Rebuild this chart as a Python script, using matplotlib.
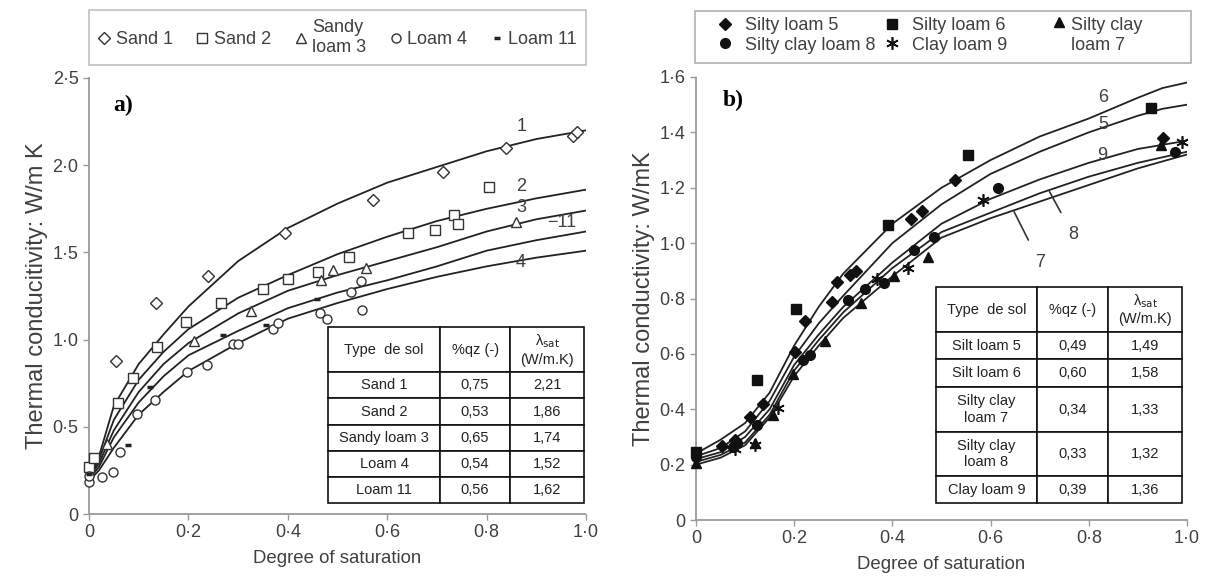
import matplotlib
matplotlib.use("Agg")
import matplotlib.pyplot as plt
from matplotlib.patches import Rectangle
from matplotlib.ticker import FuncFormatter

plt.rcParams["font.family"] = ["Liberation Sans", "DejaVu Sans"]
GREY = "#404040"

# ---------------- panel a data ----------------
xa = [0, 0.02, 0.05, 0.1, 0.15, 0.2, 0.3, 0.4, 0.5, 0.6, 0.7, 0.8, 0.9, 1.0]
curve_a = {
    "1": [0.20, 0.33, 0.62, 0.86, 1.03, 1.19, 1.45, 1.64, 1.78, 1.90, 1.99, 2.08, 2.15, 2.20],
    "2": [0.21, 0.31, 0.54, 0.77, 0.93, 1.06, 1.24, 1.37, 1.49, 1.59, 1.68, 1.75, 1.81, 1.86],
    "3": [0.21, 0.29, 0.48, 0.70, 0.86, 0.98, 1.15, 1.28, 1.37, 1.45, 1.53, 1.62, 1.69, 1.74],
    "11": [0.20, 0.27, 0.44, 0.64, 0.79, 0.91, 1.05, 1.18, 1.27, 1.34, 1.42, 1.51, 1.57, 1.62],
    "4": [0.19, 0.25, 0.38, 0.57, 0.70, 0.82, 0.98, 1.12, 1.21, 1.29, 1.36, 1.42, 1.47, 1.51],
}

sand1_x = [0.054, 0.135, 0.239, 0.394, 0.572, 0.712, 0.839, 0.973, 0.982]
sand1_y = [0.877, 1.21, 1.365, 1.61, 1.80, 1.963, 2.097, 2.165, 2.19]
sand2_x = [0.0, 0.01, 0.058, 0.088, 0.136, 0.195, 0.265, 0.35, 0.40, 0.461, 0.523, 0.642, 0.696, 0.734, 0.743, 0.805]
sand2_y = [0.27, 0.32, 0.636, 0.78, 0.958, 1.10, 1.21, 1.29, 1.35, 1.39, 1.475, 1.61, 1.63, 1.714, 1.663, 1.875]
sloam3_x = [0.036, 0.211, 0.326, 0.466, 0.491, 0.557, 0.859]
sloam3_y = [0.40, 0.994, 1.166, 1.342, 1.40, 1.41, 1.676]
loam4_x = [0.0, 0.0, 0.026, 0.049, 0.062, 0.096, 0.133, 0.197, 0.237, 0.29, 0.30, 0.37, 0.38,
           0.465, 0.478, 0.528, 0.547, 0.55]
loam4_y = [0.185, 0.22, 0.214, 0.243, 0.357, 0.572, 0.654, 0.816, 0.854, 0.975, 0.975, 1.06, 1.095,
           1.15, 1.118, 1.275, 1.338, 1.17]
loam11_x = [0.0, 0.078, 0.123, 0.27, 0.357, 0.458]
loam11_y = [0.23, 0.395, 0.73, 1.026, 1.085, 1.233]

table_a = [["Sand 1", "0,75", "2,21"],
           ["Sand 2", "0,53", "1,86"],
           ["Sandy loam 3", "0,65", "1,74"],
           ["Loam 4", "0,54", "1,52"],
           ["Loam 11", "0,56", "1,62"]]

# ---------------- panel b data ----------------
xb = [0, 0.05, 0.1, 0.15, 0.2, 0.25, 0.3, 0.4, 0.5, 0.6, 0.7, 0.8, 0.9, 0.95, 1.0]
curve_b = {
    "6": [0.24, 0.29, 0.35, 0.46, 0.63, 0.77, 0.89, 1.07, 1.20, 1.30, 1.385, 1.45, 1.525, 1.56, 1.58],
    "5": [0.23, 0.26, 0.32, 0.43, 0.59, 0.71, 0.81, 1.00, 1.14, 1.25, 1.33, 1.40, 1.46, 1.485, 1.50],
    "9": [0.22, 0.245, 0.30, 0.40, 0.56, 0.67, 0.77, 0.93, 1.07, 1.16, 1.23, 1.29, 1.34, 1.355, 1.37],
    "8": [0.21, 0.235, 0.28, 0.38, 0.54, 0.65, 0.75, 0.91, 1.04, 1.11, 1.18, 1.24, 1.29, 1.31, 1.33],
    "7": [0.20, 0.225, 0.27, 0.37, 0.52, 0.63, 0.73, 0.88, 1.02, 1.09, 1.15, 1.21, 1.27, 1.295, 1.32],
}

sl5_x = [0.052, 0.08, 0.11, 0.137, 0.202, 0.222, 0.278, 0.288, 0.314, 0.326, 0.438, 0.461, 0.527, 0.952]
sl5_y = [0.267, 0.289, 0.373, 0.419, 0.607, 0.72, 0.788, 0.86, 0.884, 0.90, 1.086, 1.116, 1.229, 1.38]
sl6_x = [0.0, 0.124, 0.204, 0.392, 0.555, 0.926]
sl6_y = [0.247, 0.506, 0.761, 1.065, 1.318, 1.487]
scl8_x = [0.0, 0.075, 0.083, 0.124, 0.218, 0.232, 0.31, 0.344, 0.383, 0.445, 0.484, 0.616, 0.975]
scl8_y = [0.229, 0.265, 0.278, 0.343, 0.578, 0.596, 0.795, 0.833, 0.855, 0.975, 1.021, 1.198, 1.33]
cl9_x = [0.08, 0.12, 0.167, 0.369, 0.431, 0.585, 0.989]
cl9_y = [0.255, 0.27, 0.403, 0.87, 0.911, 1.156, 1.366]
scl7_x = [0.0, 0.12, 0.157, 0.198, 0.263, 0.337, 0.403, 0.473, 0.948]
scl7_y = [0.205, 0.277, 0.379, 0.527, 0.648, 0.782, 0.881, 0.949, 1.354]

table_b = [["Silt loam 5", "0,49", "1,49"],
           ["Silt loam 6", "0,60", "1,58"],
           ["Silty clay\nloam 7", "0,34", "1,33"],
           ["Silty clay\nloam 8", "0,33", "1,32"],
           ["Clay loam 9", "0,39", "1,36"]]

header = ["Type  de sol", "%qz (-)", "λ$_{\\mathrm{sat}}$\n(W/m.K)"]


def dot_fmt(v, pos):
    if abs(v) < 1e-9:
        return "0"
    return ("%.1f" % v).replace(".", "·")


def style_axes(ax, ymax, ystep):
    for s in ["top", "right"]:
        ax.spines[s].set_visible(False)
    for s in ["left", "bottom"]:
        ax.spines[s].set_color("#9a9a9a")
        ax.spines[s].set_linewidth(1.3)
        ax.spines[s].set_linestyle((0, (2, 1)))
    ax.set_xlim(0, 1.0)
    ax.set_ylim(0, ymax)
    ax.set_xticks([0, 0.2, 0.4, 0.6, 0.8, 1.0])
    n = int(round(ymax / ystep))
    ax.set_yticks([i * ystep for i in range(n + 1)])
    ax.xaxis.set_major_formatter(FuncFormatter(dot_fmt))
    ax.yaxis.set_major_formatter(FuncFormatter(dot_fmt))
    ax.tick_params(labelsize=13, colors="#9a9a9a", labelcolor=GREY, length=4, width=1)
    ax.set_xlabel("Degree of saturation", fontsize=13.4, color=GREY, labelpad=6)


def make_table(ax, rows, bbox, colw, rowh):
    tb = ax.table(cellText=[header] + rows, cellLoc="center", bbox=bbox)
    tb.auto_set_font_size(False)
    for (r, c), cell in tb.get_celld().items():
        cell.set_width(colw[c])
        cell.set_height(rowh[r])
        cell.set_linewidth(1.2)
        cell.set_edgecolor("#111111")
        cell.get_text().set_fontsize(10.5)
        cell.get_text().set_color("#222222")
    return tb


fig = plt.figure(figsize=(12.06, 5.82), dpi=100)
axa = fig.add_axes([0.0738, 0.1168, 0.4122, 0.7492])
axb = fig.add_axes([0.5771, 0.1065, 0.4071, 0.7612])

# ---------------- panel a ----------------
for key, ys in curve_a.items():
    axa.plot(xa, ys, color="#222222", lw=1.3, zorder=2)

mk = dict(linestyle="none", mfc="white", mec="#333333", mew=1.0, clip_on=False, zorder=3)
h1, = axa.plot(sand1_x, sand1_y, marker="D", ms=6, label="Sand 1", **mk)
h2, = axa.plot(sand2_x, sand2_y, marker="s", ms=6.5, label="Sand 2", **mk)
h3, = axa.plot(sloam3_x, sloam3_y, marker="^", ms=7, label="Sandy\nloam 3", **mk)
h4, = axa.plot(loam4_x, loam4_y, marker="o", ms=6.5, label="Loam 4", **mk)
h5, = axa.plot(loam11_x, loam11_y, marker="_", ms=5, mew=2.5, color="#222222",
               linestyle="none", clip_on=False, zorder=3, label="Loam 11")

style_axes(axa, 2.5, 0.5)
axa.set_ylabel("Thermal conducitivity: W/m K", fontsize=17, color=GREY, labelpad=3)

lab_a = {"1": (0.87, 2.22), "2": (0.87, 1.88), "3": (0.87, 1.76), "−11": (0.95, 1.67), "4": (0.868, 1.44)}
for t, (x, y) in lab_a.items():
    axa.text(x, y, t, fontsize=13, color=GREY, ha="center", va="center", zorder=4)

axa.text(0.048, 0.938, "a)", transform=axa.transAxes, fontsize=17, fontweight="bold",
         family="Liberation Serif", va="center", ha="left")

leg = axa.legend(handles=[h1, h2, h3, h4, h5], loc="center", ncol=5,
                 bbox_to_anchor=(0, 1.034, 1.0, 0.117), mode="expand", borderaxespad=0,
                 fontsize=13, frameon=True, fancybox=False, edgecolor="#b0b0b0",
                 handlelength=0.7, handletextpad=0.3, columnspacing=0.9, borderpad=0.5,
                 labelspacing=0.1)
leg.get_frame().set_linewidth(1.2)
for t in leg.get_texts():
    t.set_color(GREY)

make_table(axa, table_a, [0.481, 0.025, 0.515, 0.404],
           [112, 70, 74], [45, 26, 26, 26, 26, 26])

# ---------------- panel b ----------------
for key, ys in curve_b.items():
    axb.plot(xb, ys, color="#222222", lw=1.3, zorder=2)

mkb = dict(linestyle="none", color="#111111", clip_on=False, zorder=3)
g5, = axb.plot(sl5_x, sl5_y, marker="D", ms=6, label="Silty loam 5", **mkb)
g6, = axb.plot(sl6_x, sl6_y, marker="s", ms=7.5, label="Silty loam 6", **mkb)
g8, = axb.plot(scl8_x, scl8_y, marker="o", ms=7, label="Silty clay loam 8", **mkb)
g9, = axb.plot(cl9_x, cl9_y, marker=(6, 2, 0), ms=9, mew=1.2, label="Clay loam 9", **mkb)
g7, = axb.plot(scl7_x, scl7_y, marker="^", ms=7.5, label="Silty clay\nloam 7", **mkb)

style_axes(axb, 1.6, 0.2)
axb.set_ylabel("Thermal conductivity: W/mK", fontsize=17, color=GREY, labelpad=3)

lab_b = {"6": (0.83, 1.525), "5": (0.83, 1.43), "9": (0.828, 1.315)}
for t, (x, y) in lab_b.items():
    axb.text(x, y, t, fontsize=13, color=GREY, ha="center", va="center", zorder=4)
axb.annotate("8", xy=(0.72, 1.186), xytext=(0.768, 1.03), fontsize=13, color=GREY,
             ha="center", va="center",
             arrowprops=dict(arrowstyle="-", color="#333333", lw=1.2, shrinkA=9, shrinkB=0))
axb.annotate("7", xy=(0.648, 1.113), xytext=(0.70, 0.93), fontsize=13, color=GREY,
             ha="center", va="center",
             arrowprops=dict(arrowstyle="-", color="#333333", lw=1.2, shrinkA=9, shrinkB=0))

axb.text(0.055, 0.948, "b)", transform=axb.transAxes, fontsize=17, fontweight="bold",
         family="Liberation Serif", va="center", ha="left")

# legend frame drawn separately; entries split in two legends to follow the original spacing
axb.add_patch(Rectangle((-0.002, 1.032), 1.01, 0.117, transform=axb.transAxes,
                        fill=False, edgecolor="#b0b0b0", lw=1.2, clip_on=False))
legb = axb.legend(handles=[g5, g8, g6, g9], loc="center left", ncol=2,
                  bbox_to_anchor=(0.022, 1.094), fontsize=13, frameon=False,
                  handlelength=1.0, handletextpad=0.6, columnspacing=0.45,
                  borderpad=0.0, labelspacing=0.15)
for t in legb.get_texts():
    t.set_color(GREY)
axb.add_artist(legb)
legc = axb.legend(handles=[g7], loc="center left", bbox_to_anchor=(0.703, 1.094),
                  fontsize=13, frameon=False, handlelength=1.0, handletextpad=0.15,
                  borderpad=0.0)
for t in legc.get_texts():
    t.set_color(GREY)
# the original sets the triangle level with the first text line
legc.legend_handles[0].set_transform(
    legc.legend_handles[0].get_transform()
    + matplotlib.transforms.ScaledTranslation(0, 10 / 72, fig.dpi_scale_trans))

make_table(axb, table_b, [0.489, 0.038, 0.501, 0.488],
           [101, 71, 74], [45, 27, 28, 45, 44, 27])

fig.savefig("out.png", dpi=100, facecolor="white")
